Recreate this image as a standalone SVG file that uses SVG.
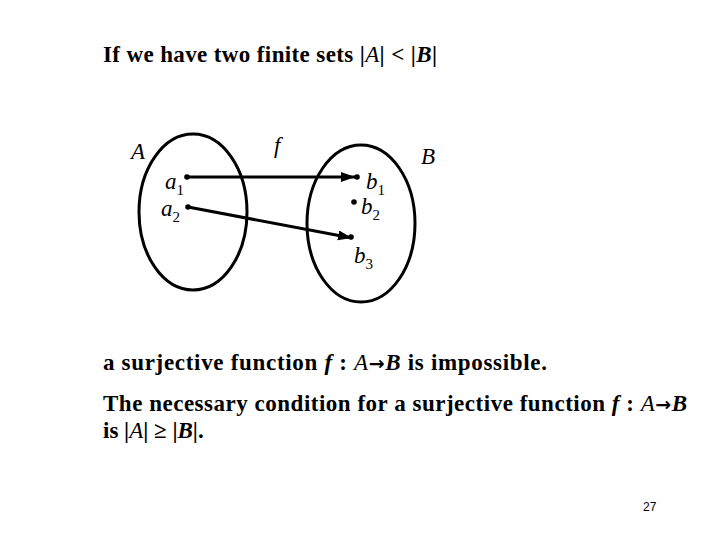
<svg xmlns="http://www.w3.org/2000/svg" width="720" height="540" viewBox="0 0 720 540">
<style>
.t{font-family:"Liberation Serif","Times New Roman",serif;font-weight:bold;font-size:23px;fill:#000}
.i{font-style:italic}
.ar{font-family:"DejaVu Sans",sans-serif;font-weight:bold;font-size:19px}
.lab{font-family:"Liberation Serif","Times New Roman",serif;font-style:italic;font-size:23px;fill:#000}
.sub{font-family:"Liberation Serif","Times New Roman",serif;font-style:normal;font-size:15px;fill:#000}
.set{fill:none;stroke:#000;stroke-width:3}
.dot{fill:#000}
.edge{stroke:#000;stroke-width:3;fill:none}
</style>
<defs>
<marker id="ah" markerUnits="userSpaceOnUse" markerWidth="15" markerHeight="12" refX="14" refY="5" orient="auto">
<path d="M0,0 L14,5 L0,10 Z" fill="#000"/>
</marker>
</defs>
<rect width="720" height="540" fill="#fff"/>
<text class="t" x="103" y="62" textLength="334" lengthAdjust="spacing">If we have two finite sets |<tspan class="i" font-weight="normal">A</tspan>| &lt; |<tspan class="i">B</tspan>|</text>
<g id="setA">
<ellipse class="set" cx="193" cy="212" rx="54" ry="78"/>
<text class="lab" x="131" y="159">A</text>
</g>
<g id="setB">
<ellipse class="set" cx="361" cy="223.5" rx="54" ry="78.5"/>
<text class="lab" x="421" y="164">B</text>
</g>
<g id="a1"><circle class="dot" cx="187" cy="177" r="2.8"/><text class="lab" x="165" y="189">a<tspan class="sub" dy="6">1</tspan></text></g>
<g id="a2"><circle class="dot" cx="188" cy="207" r="2.8"/><text class="lab" x="161" y="216">a<tspan class="sub" dy="6">2</tspan></text></g>
<g id="b1"><circle class="dot" cx="357" cy="177" r="2.8"/><text class="lab" x="366" y="189">b<tspan class="sub" dy="6">1</tspan></text></g>
<g id="b2"><circle class="dot" cx="354" cy="202" r="2.8"/><text class="lab" x="361" y="214">b<tspan class="sub" dy="6">2</tspan></text></g>
<g id="b3"><circle class="dot" cx="351" cy="237" r="2.8"/><text class="lab" x="354" y="263">b<tspan class="sub" dy="6">3</tspan></text></g>
<g id="connectors">
<line class="edge" x1="187" y1="177" x2="355" y2="177" marker-end="url(#ah)"/>
<line class="edge" x1="188" y1="207" x2="352" y2="238" marker-end="url(#ah)"/>
<text class="lab" x="274" y="153">f</text>
</g>
<text class="t" x="103" y="370" textLength="444" lengthAdjust="spacing">a surjective function <tspan class="i">f</tspan> : <tspan class="i" font-weight="normal">A</tspan><tspan class="ar">→</tspan><tspan class="i">B</tspan>  is impossible.</text>
<text class="t" x="103" y="411" textLength="584" lengthAdjust="spacing">The necessary condition for a surjective function <tspan class="i">f</tspan> : <tspan class="i" font-weight="normal">A</tspan><tspan class="ar">→</tspan><tspan class="i">B</tspan></text>
<text class="t" x="103" y="438">is |<tspan class="i" font-weight="normal">A</tspan>| ≥ |<tspan class="i">B</tspan>|.</text>
<text x="643" y="511" font-family="Liberation Sans, Arial, sans-serif" font-size="12" fill="#000">27</text>
</svg>
